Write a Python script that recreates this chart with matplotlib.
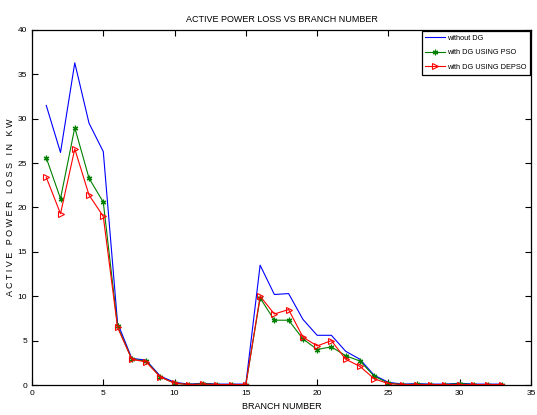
import numpy as np
import matplotlib.pyplot as plt

plt.rcParams['font.family'] = ['Liberation Sans Narrow', 'Liberation Sans', 'DejaVu Sans']

# branch numbers
branch = np.arange(1, 34)

# losses in kW
without_dg = [31.5, 26.2, 36.3, 29.5, 26.3, 7.0, 3.0, 2.8, 1.0, 0.3, 0.1, 0.2, 0.1, 0.1, 0.1,
              13.5, 10.2, 10.3, 7.4, 5.6, 5.6, 3.8, 2.9, 1.1, 0.3, 0.1, 0.15, 0.1, 0.1, 0.2,
              0.1, 0.1, 0.1]
pso = [25.6, 21.0, 29.0, 23.3, 20.6, 6.6, 2.9, 2.7, 0.9, 0.2, 0.05, 0.15, 0.05, 0.05, 0.05,
       9.8, 7.3, 7.3, 5.2, 4.0, 4.3, 3.3, 2.7, 1.0, 0.2, 0.05, 0.1, 0.05, 0.05, 0.15,
       0.05, 0.05, 0.05]
depso = [23.4, 19.3, 26.6, 21.4, 19.0, 6.5, 2.9, 2.6, 0.9, 0.2, 0.05, 0.1, 0.05, 0.05, 0.05,
         10.0, 8.0, 8.5, 5.4, 4.4, 5.0, 2.9, 2.1, 0.7, 0.15, 0.05, 0.05, 0.05, 0.05, 0.05,
         0.05, 0.05, 0.05]

fig = plt.figure(figsize=(5.37, 4.15), dpi=100)
ax = fig.add_axes([32/537, 30/415, 499/537, 355/415])

ax.plot(branch, without_dg, color='#0000ff', linewidth=0.8, label='without DG')
ax.plot(branch, pso, color='#008000', linewidth=0.8, marker=(6, 2, 0), markersize=4,
        markeredgewidth=0.9, label='with DG USING PSO')
ax.plot(branch, depso, color='#ff0000', linewidth=0.8, marker='>', markersize=4.5,
        markerfacecolor='none', markeredgewidth=0.8, label='with DG USING DEPSO')

ax.set_xlim(0, 35)
ax.set_ylim(0, 40)
ax.set_xticks(np.arange(0, 36, 5))
ax.set_yticks(np.arange(0, 41, 5))
ax.tick_params(direction='in', top=True, right=True, labelsize=6, length=4, width=0.8)
for s in ax.spines.values():
    s.set_linewidth(0.9)

ax.set_title('ACTIVE POWER LOSS VS BRANCH NUMBER', fontsize=6.5, pad=6)
ax.set_xlabel('BRANCH NUMBER', fontsize=6.5, labelpad=4)
ax.set_ylabel('A C T I V E   P O W E R   L O S S   I N   K W', fontsize=6.5, labelpad=2)

leg = ax.legend(loc='upper right', fontsize=5.3, fancybox=False, edgecolor='black',
                framealpha=1, handlelength=2.6, handletextpad=0.3, borderpad=0.5,
                borderaxespad=0.15, labelspacing=1.0)
leg.get_frame().set_linewidth(0.9)

fig.savefig('out.png', dpi=100)
